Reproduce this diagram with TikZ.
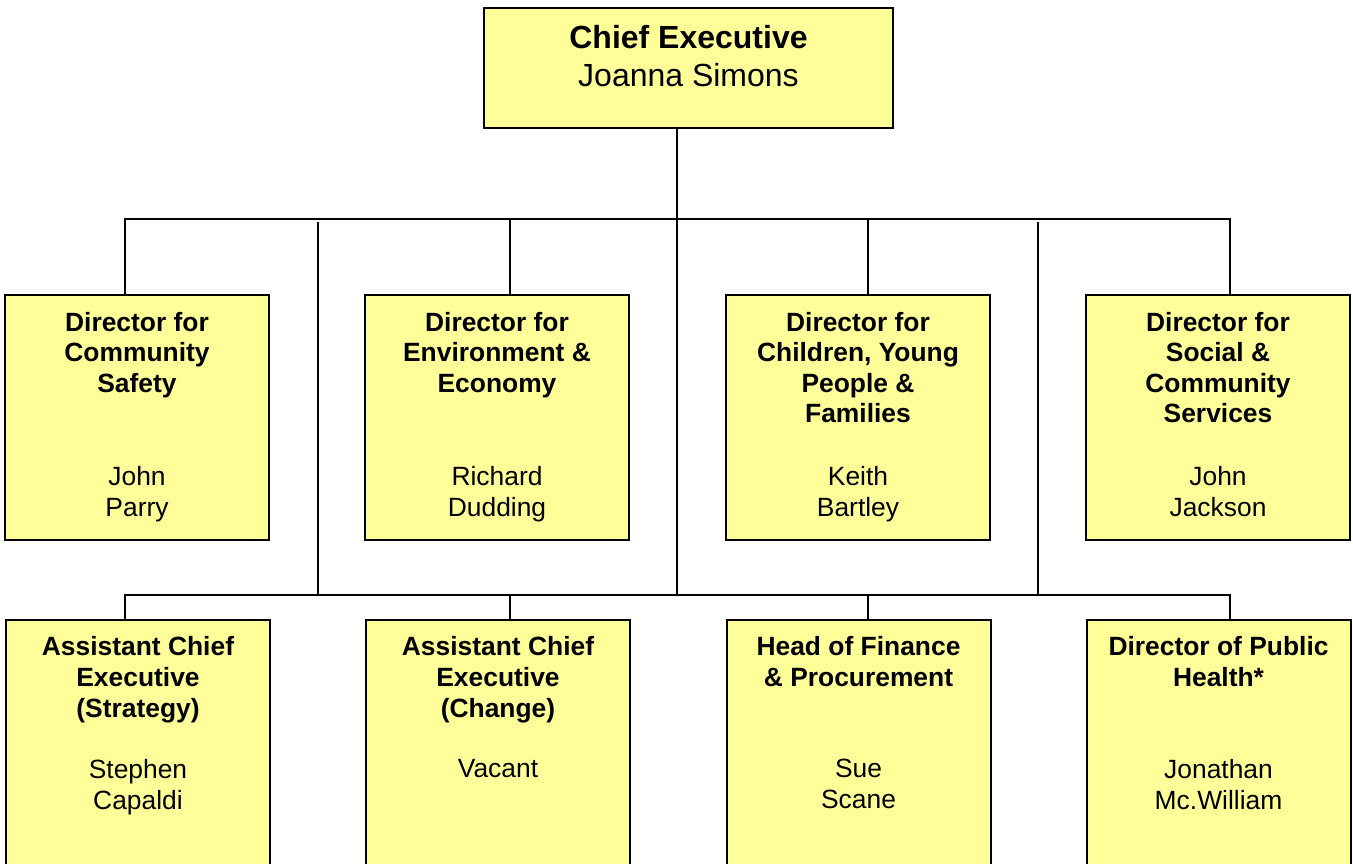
\documentclass[tikz,border=0pt]{standalone}
\usepackage{fontspec}
\setmainfont{Liberation Sans}
\usepackage{tikz}
\usetikzlibrary{positioning}
\definecolor{memo}{HTML}{FFFF99}
\tikzset{postbox/.style={rectangle,draw,fill=memo,line width=1pt,minimum width=132pt,minimum height=122.5pt,inner sep=0pt},
  role/.style={inner sep=0pt,align=center,font=\fontsize{13.2}{15.3}\selectfont\bfseries},
  holder/.style={inner sep=0pt,align=center,font=\fontsize{13.2}{15.3}\selectfont},
  link/.style={line width=0.9pt}}

\begin{document}
\begin{tikzpicture}[x=0.5pt,y=-0.5pt]
    \useasboundingbox (0,0) rectangle (1353,863);
    \clip (0,0) rectangle (1353,863);

    \node[postbox,minimum width=204.5pt,minimum height=60pt] (ceo) at (688.5,68) {};
    \node[inner sep=0pt,align=center,font=\fontsize{16}{18.75}\selectfont,below=9.2pt of ceo.north] {\textbf{Chief Executive}\\Joanna Simons};

    \node[postbox] (safety) at (137,417.5) {};
    \node[postbox] (environ) at (497,417.5) {};
    \node[postbox] (children) at (858,417.5) {};
    \node[postbox] (social) at (1218,417.5) {};
    \node[role,below=8.8pt of safety.north] {Director for\\Community\\Safety};
    \node[holder,below=86pt of safety.north] {John\\Parry};
    \node[role,below=8.8pt of environ.north] {Director for\\Environment \&\\Economy};
    \node[holder,below=86pt of environ.north] {Richard\\Dudding};
    \node[role,below=8.8pt of children.north] {Director for\\Children, Young\\People \&\\Families};
    \node[holder,below=86pt of children.north] {Keith\\Bartley};
    \node[role,below=8.8pt of social.north] {Director for\\Social \&\\Community\\Services};
    \node[holder,below=86pt of social.north] {John\\Jackson};

    \node[postbox,minimum height=125pt] (strategy) at (138,745) {};
    \node[postbox,minimum height=125pt] (change) at (498,745) {};
    \node[postbox,minimum height=125pt] (finance) at (858.5,745) {};
    \node[postbox,minimum height=125pt] (health) at (1218.5,745) {};
    \node[role,below=8.7pt of strategy.north] {Assistant Chief\\Executive\\(Strategy)};
    \node[holder,below=70pt of strategy.north] {Stephen\\Capaldi};
    \node[role,below=8.7pt of change.north] {Assistant Chief\\Executive\\(Change)};
    \node[holder,below=70pt of change.north] {Vacant};
    \node[role,below=8.7pt of finance.north] {Head of Finance\\\& Procurement};
    \node[holder,below=70pt of finance.north] {Sue\\Scane};
    \node[role,below=8.7pt of health.north] {Director of Public\\Health*};
    \node[holder,below=70pt of health.north] {Jonathan\\Mc.William};

    \coordinate (upper) at (677,219);
    \coordinate (lower) at (677,595);
    \coordinate (u1) at (125,219);
    \coordinate (u2) at (510,219);
    \coordinate (u3) at (868,219);
    \coordinate (u4) at (1230,219);
    \coordinate (l1) at (125,595);
    \coordinate (l2) at (510,595);
    \coordinate (l3) at (868,595);
    \coordinate (l4) at (1230,595);
    \coordinate (s1) at (318,222);
    \coordinate (s3) at (1038,222);

    \draw [link] (ceo.south -| upper) -- (lower);
    \draw [link] (safety.north -| u1) -- (u1) -- (u4) -- (social.north -| u4);
    \draw [link] (u2) -- (u2 |- environ.north);
    \draw [link] (u3) -- (u3 |- children.north);
    \draw [link] (s1) -- (s1 |- lower);
    \draw [link] (s3) -- (s3 |- lower);
    \draw [link] (strategy.north -| l1) -- (l1) -- (l4) -- (health.north -| l4);
    \draw [link] (l2) -- (l2 |- change.north);
    \draw [link] (l3) -- (l3 |- finance.north);
\end{tikzpicture}
\end{document}
